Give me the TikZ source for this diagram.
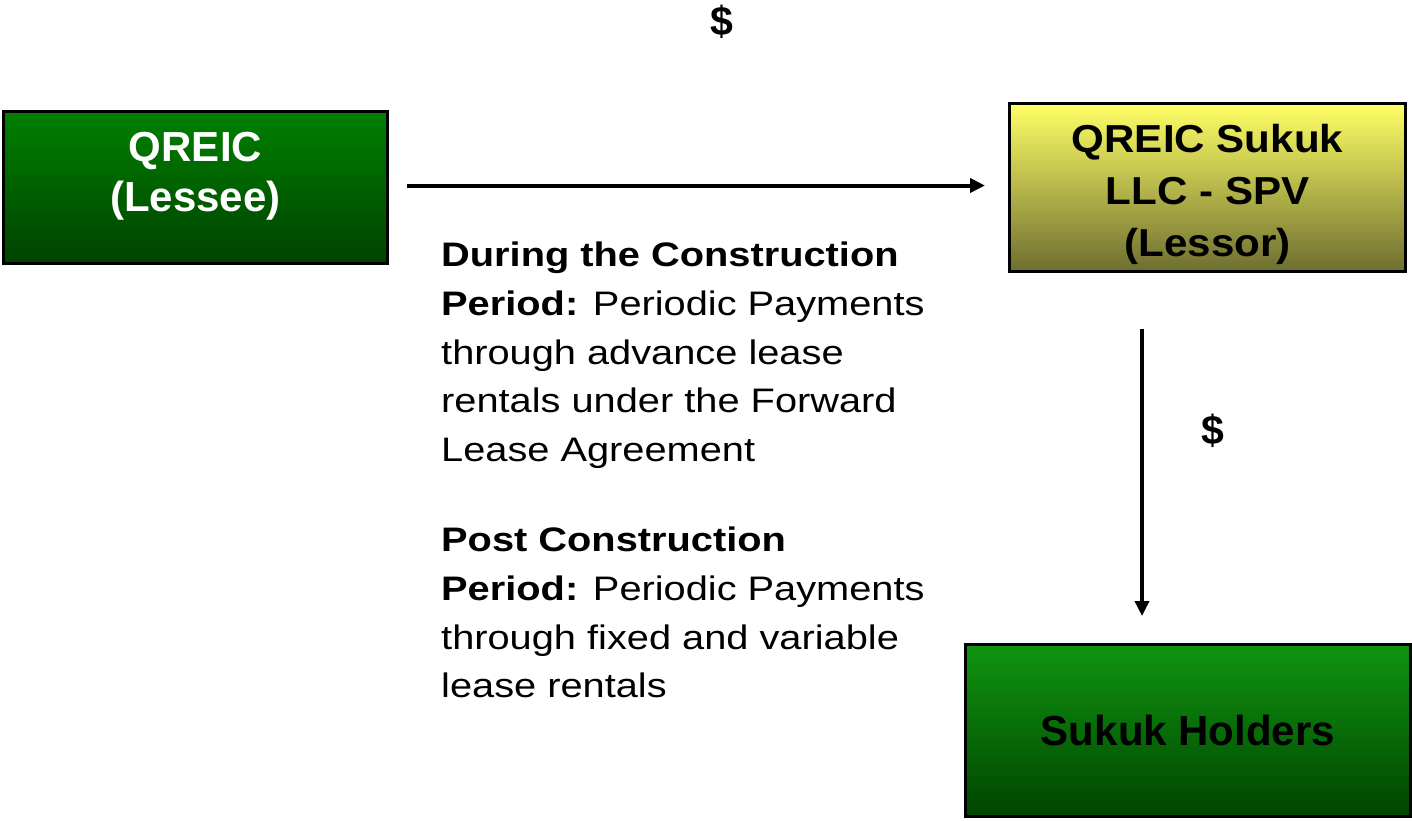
\documentclass[tikz,border=0pt]{standalone}
\usepackage{fontspec}
\setmainfont{Liberation Sans}
\newfontfamily\termsfont[FakeStretch=1.17]{Liberation Sans}
\newfontfamily\spvfont[FakeStretch=1.08]{Liberation Sans}
\usepackage{tikz}
\usetikzlibrary{arrows.meta,positioning}
\definecolor{LeaseGreen}{RGB}{0,128,0}
\definecolor{LeaseGreenMid}{RGB}{0,108,0}
\definecolor{LeaseGreenDark}{RGB}{0,66,0}
\definecolor{HolderGreen}{RGB}{16,148,16}
\definecolor{HolderGreenMid}{RGB}{8,118,8}
\definecolor{HolderGreenDark}{RGB}{0,68,0}
\definecolor{SpvYellow}{RGB}{255,255,102}
\definecolor{SpvYellowMid}{RGB}{218,218,86}
\definecolor{SpvOlive}{RGB}{110,110,48}

\begin{document}
\begin{tikzpicture}[x=1pt,y=-1pt,
    party/.style={draw=black,line width=3pt,inner sep=0pt},
    partytext/.style={align=center,inner sep=0pt,font=\bfseries\fontsize{42}{50}\selectfont},
    terms/.style={align=left,inner sep=0pt,font=\termsfont\fontsize{34}{48.6}\selectfont},
    cash/.style={inner sep=0pt,font=\bfseries\fontsize{41}{48}\selectfont},
    flow/.style={line width=3.5pt,-{Triangle[length=15pt,width=14pt]}}]
  \useasboundingbox (0,0) rectangle (1412,820);
  % the three parties
  \node[party,minimum width=384pt,minimum height=152pt,
        top color=LeaseGreen,middle color=LeaseGreenMid,bottom color=LeaseGreenDark,
        label={[partytext,text=white,yshift=11pt]center:QREIC\\(Lessee)}] (lessee) at (195.5,187.5) {};
  \node[party,minimum width=396pt,minimum height=168pt,
        top color=SpvYellow,middle color=SpvYellowMid,bottom color=SpvOlive,
        label={[partytext,font=\spvfont\bfseries\fontsize{39}{52}\selectfont,yshift=-7pt]center:QREIC Sukuk\\LLC - SPV\\(Lessor)}] (lessor) at (1207.5,187.5) {};
  \node[party,minimum width=445pt,minimum height=172pt,
        top color=HolderGreen,middle color=HolderGreenMid,bottom color=HolderGreenDark,
        label={[partytext]center:Sukuk Holders}] (holders) at (1188,730.5) {};
  % payment flows
  \coordinate (spvout) at (1142,329);
  \coordinate (holdin) at (1142,616);
  \draw[flow,line width=4pt] ([xshift=18pt,yshift=2pt]lessee.east) -- ([xshift=-23pt,yshift=2pt]lessor.west);
  \draw[flow] (spvout) -- (holdin);
  \node[cash] (cashrent) at (722,22) {\$};
  \node[cash] (cashsukuk) at (1213,431) {\$};
  % payment terms
  \node[terms,anchor=north west] (rentterms) at (441,242) {\textbf{During the Construction}\\
    \textbf{Period:} Periodic Payments\\
    through advance lease\\
    rentals under the Forward\\
    Lease Agreement\\[42pt]
    \textbf{Post Construction}\\
    \textbf{Period:} Periodic Payments\\
    through fixed and variable\\
    lease rentals};
\end{tikzpicture}
\end{document}
